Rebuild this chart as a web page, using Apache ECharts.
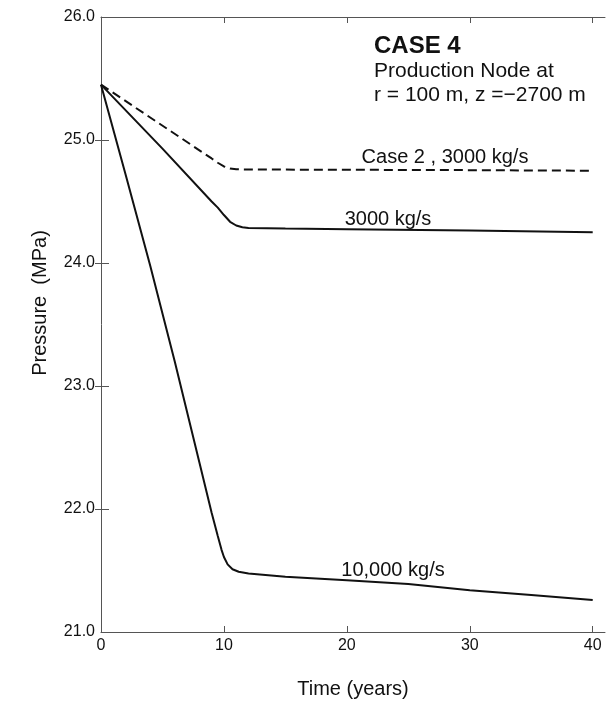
<!DOCTYPE html>
<html>
<head>
<meta charset="utf-8">
<script src="https://cdn.jsdelivr.net/npm/echarts@6/dist/echarts.min.js"></script>
<style>
  html, body { margin: 0; padding: 0; background: #fff; }
  #chart { width: 609px; height: 707px; }
</style>
</head>
<body>
<div id="chart"></div>
<script>
// Case 2, 3000 kg/s (dashed)
var case2Time = [0, 9, 9.5, 10, 10.5, 11, 12, 20, 30, 40]
var case2Pressure = [25.45, 24.85, 24.815, 24.785, 24.768, 24.762, 24.76, 24.758, 24.755, 24.75]

// Case 4, 3000 kg/s
var flow3000Time = [0, 5, 9, 9.5, 10, 10.5, 11, 11.5, 12, 15, 20, 30, 40]
var flow3000Pressure = [25.45, 24.93, 24.5, 24.45, 24.39, 24.335, 24.305, 24.29, 24.285, 24.28, 24.275, 24.265, 24.25]

// Case 4, 10,000 kg/s
var flow10000Time = [0, 2, 4, 6, 8, 9, 9.5, 9.8, 10, 10.3, 10.7, 11.2, 12, 15, 20, 25, 30, 35, 40]
var flow10000Pressure = [25.45, 24.72, 23.98, 23.2, 22.38, 21.97, 21.78, 21.67, 21.61, 21.55, 21.51, 21.49, 21.475, 21.45, 21.42, 21.39, 21.34, 21.3, 21.26]

var xTicks = [0, 10, 20, 30, 40]
var yTicks = [21, 22, 23, 24, 25, 26]

function pairs(xs, ys) {
  return xs.map(function (x, i) {
    return [x, ys[i]]
  })
}

var font = 'Liberation Sans, Arial, Helvetica, sans-serif'
var ink = '#111'
var axisGray = '#555'

var myChart = echarts.init(document.getElementById('chart'))
myChart.setOption({
  backgroundColor: '#fff',
  animation: false,
  grid: {
    left: 101,
    top: 17,
    right: 4,
    bottom: 75,
  },
  xAxis: [
    {
      type: 'value',
      position: 'bottom',
      min: 0,
      max: 41,
      name: 'Time (years)',
      nameLocation: 'middle',
      nameGap: 47,
      nameTextStyle: { color: ink, fontSize: 20, fontFamily: font },
      axisLine: { show: true, lineStyle: { color: axisGray, width: 1 } },
      axisTick: { show: true, inside: true, length: 6, customValues: xTicks, lineStyle: { color: axisGray } },
      axisLabel: { customValues: xTicks, color: ink, fontSize: 16, fontFamily: font, margin: 6 },
      splitLine: { show: false },
    },
    {
      type: 'value',
      position: 'top',
      min: 0,
      max: 41,
      axisLine: { show: true, lineStyle: { color: axisGray, width: 1 } },
      axisTick: { show: true, inside: true, length: 6, customValues: xTicks, lineStyle: { color: axisGray } },
      axisLabel: { show: false },
      splitLine: { show: false },
    },
  ],
  yAxis: [
    {
      type: 'value',
      position: 'left',
      min: 21,
      max: 26,
      interval: 1,
      axisLine: { show: true, lineStyle: { color: axisGray, width: 1 } },
      axisTick: { show: true, inside: true, length: 8, customValues: yTicks, lineStyle: { color: axisGray } },
      axisLabel: {
        customValues: yTicks,
        color: ink,
        fontSize: 16,
        fontFamily: font,
        margin: 6,
        formatter: function (v) {
          return v.toFixed(1)
        },
      },
      splitLine: { show: false },
    },
    {
      type: 'value',
      position: 'right',
      min: 21,
      max: 26,
      interval: 1,
      axisLine: { show: false },
      axisTick: { show: true, inside: true, length: 6, customValues: [22, 23, 24, 25], lineStyle: { color: axisGray } },
      axisLabel: { show: false },
      splitLine: { show: false },
    },
  ],
  series: [
    {
      name: 'Case 2, 3000 kg/s',
      type: 'line',
      data: pairs(case2Time, case2Pressure),
      showSymbol: false,
      lineStyle: { color: ink, width: 2, type: [9, 5] },
    },
    {
      name: '3000 kg/s',
      type: 'line',
      data: pairs(flow3000Time, flow3000Pressure),
      showSymbol: false,
      lineStyle: { color: ink, width: 2 },
    },
    {
      name: '10,000 kg/s',
      type: 'line',
      data: pairs(flow10000Time, flow10000Pressure),
      showSymbol: false,
      lineStyle: { color: ink, width: 2 },
    },
  ],
  graphic: [
    {
      type: 'text',
      x: 40,
      y: 303,
      rotation: Math.PI / 2,
      style: { text: 'Pressure  (MPa)', fill: ink, font: '20px ' + font, textAlign: 'center', textVerticalAlign: 'middle' },
    },
    {
      type: 'text',
      x: 374,
      y: 46,
      style: { text: 'CASE 4', fill: ink, font: 'bold 24px ' + font, textAlign: 'left', textVerticalAlign: 'middle' },
    },
    {
      type: 'text',
      x: 374,
      y: 71,
      style: { text: 'Production Node at', fill: ink, font: '21px ' + font, textAlign: 'left', textVerticalAlign: 'middle' },
    },
    {
      type: 'text',
      x: 374,
      y: 95,
      style: { text: 'r = 100 m, z =\u22122700 m', fill: ink, font: '21px ' + font, textAlign: 'left', textVerticalAlign: 'middle' },
    },
    {
      type: 'text',
      x: 445,
      y: 157,
      style: { text: 'Case 2 , 3000 kg/s', fill: ink, font: '20px ' + font, textAlign: 'center', textVerticalAlign: 'middle' },
    },
    {
      type: 'text',
      x: 388,
      y: 219,
      style: { text: '3000 kg/s', fill: ink, font: '20px ' + font, textAlign: 'center', textVerticalAlign: 'middle' },
    },
    {
      type: 'text',
      x: 393,
      y: 570,
      style: { text: '10,000 kg/s', fill: ink, font: '20px ' + font, textAlign: 'center', textVerticalAlign: 'middle' },
    },
  ],
})
</script>
</body>
</html>
